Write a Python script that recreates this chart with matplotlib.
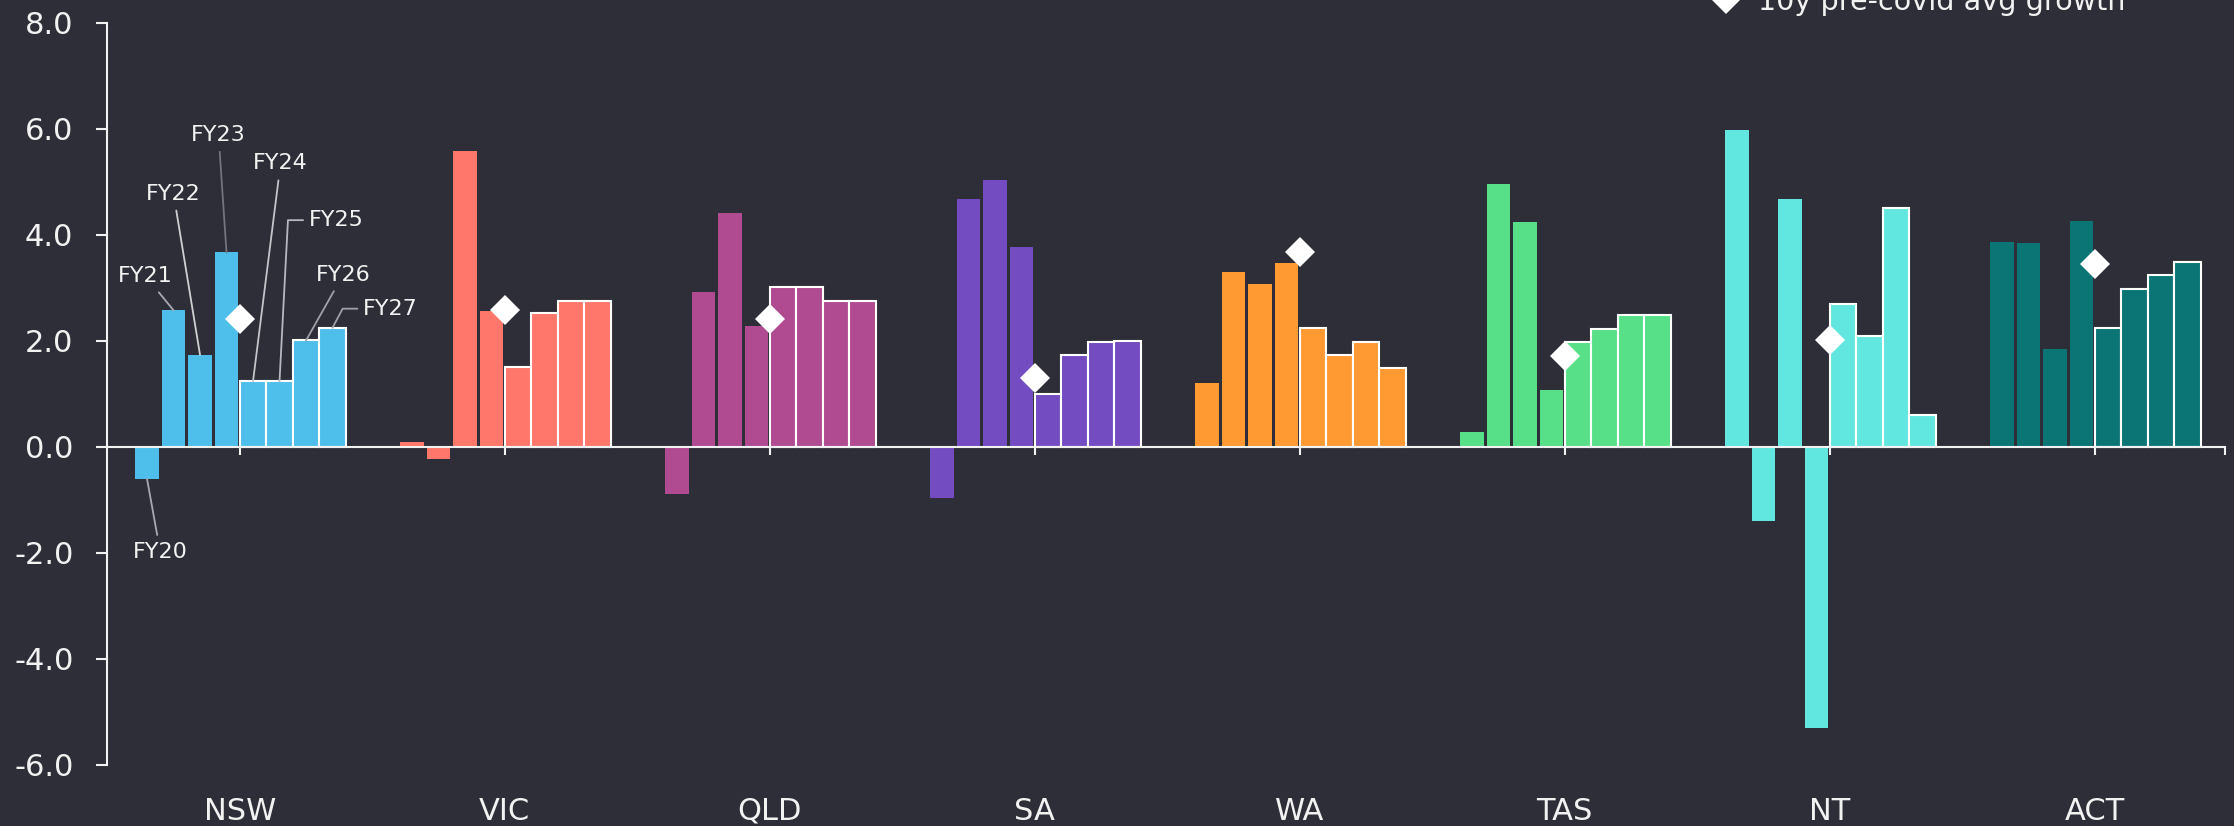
import numpy as np
import matplotlib.pyplot as plt
from matplotlib.lines import Line2D

plt.rcParams['font.family'] = ['DejaVu Sans']
plt.rcParams['axes.unicode_minus'] = False

# data: annual growth by state, FY20-FY23 actual, FY24-FY27 forecast
states = ['NSW', 'VIC', 'QLD', 'SA', 'WA', 'TAS', 'NT', 'ACT']
years = ['FY20', 'FY21', 'FY22', 'FY23', 'FY24', 'FY25', 'FY26', 'FY27']
n_actual = 4

nsw = [-0.60, 2.58, 1.74, 3.67, 1.24, 1.24, 2.01, 2.25]
vic = [0.10, -0.23, 5.58, 2.57, 1.51, 2.52, 2.75, 2.75]
qld = [-0.88, 2.92, 4.41, 2.28, 3.01, 3.01, 2.75, 2.75]
sa = [-0.97, 4.68, 5.03, 3.77, 1.00, 1.74, 1.99, 2.00]
wa = [1.20, 3.30, 3.08, 3.47, 2.25, 1.74, 1.99, 1.49]
tas = [0.29, 4.97, 4.25, 1.07, 1.99, 2.23, 2.50, 2.50]
nt = [5.99, -1.40, 4.67, -5.31, 2.70, 2.10, 4.51, 0.60]
act = [3.86, 3.84, 1.84, 4.26, 2.24, 2.99, 3.25, 3.50]

# 10y pre-covid average growth
pre_covid_avg = [2.42, 2.58, 2.42, 1.31, 3.68, 1.72, 2.01, 3.45]

colors = ['#4dbfea', '#ff766b', '#b04a91', '#744cc2', '#ff9a33', '#57e088', '#62e7e0', '#0b7575']

# NSW label positions (x offset from group centre, y value)
label_xy = [(-0.30, -1.98), (-0.355, 3.22), (-0.25, 4.78), (-0.08, 5.89),
            (0.154, 5.35), (0.26, 4.28), (0.39, 3.25), (0.465, 2.61)]
label_line_col = ['#a8a8b0', '#a8a8b0', '#d0d0d4', '#74747c', '#c4c4ca', '#b8b8c0', '#a0a0a8', '#a0a0a8']

bg = '#2e2e38'
fg = '#f2f2f2'

fig = plt.figure(figsize=(22.34, 8.26), dpi=100, facecolor=bg)
ax = fig.add_axes([107 / 2234, 61 / 826, 2117.6 / 2234, 742 / 826])
ax.set_facecolor(bg)

all_vals = [nsw, vic, qld, sa, wa, tas, nt, act]
step = 0.1
for g, (vals, col) in enumerate(zip(all_vals, colors)):
    for i, v in enumerate(vals):
        x = g + (i - 3.5) * step
        if i < n_actual:
            ax.bar(x, v, width=0.09, color=col, edgecolor='none', zorder=2)
        else:
            ax.bar(x, v, width=step, color=col, edgecolor='white', linewidth=1.5, zorder=3)

ax.plot(range(len(states)), pre_covid_avg, linestyle='none', marker='D', markersize=15,
        color='white', markeredgewidth=0, zorder=5)

# FY labels on NSW
for i, yr in enumerate(years):
    bx = (i - 3.5) * step
    tx, ty = label_xy[i]
    if yr in ('FY25', 'FY27'):
        ang = 87 if yr == 'FY25' else 62
        ax.annotate(yr, xy=(bx, nsw[i]), xytext=(tx, ty), ha='left', va='center',
                    fontsize=16, color=fg,
                    arrowprops=dict(arrowstyle='-', color=label_line_col[i], lw=1.3,
                                    shrinkA=2, shrinkB=0, relpos=(0, 0.5),
                                    connectionstyle=f'angle,angleA=180,angleB={ang},rad=0'))
    else:
        ax.annotate(yr, xy=(bx, nsw[i]), xytext=(tx, ty), ha='center', va='center',
                    fontsize=16, color=fg,
                    arrowprops=dict(arrowstyle='-', color=label_line_col[i], lw=1.3,
                                    shrinkA=3, shrinkB=0))

ax.set_xlim(-0.501, 7.49)
ax.set_ylim(-6, 8)
ax.set_yticks(np.arange(-6, 8.1, 2))
ax.set_yticklabels([f'{v:.1f}' for v in np.arange(-6, 8.1, 2)])
ax.set_xticks(range(len(states)))
ax.set_xticklabels(states)
ax.set_xticks([7.49], minor=True)

for s in ['top', 'right']:
    ax.spines[s].set_visible(False)
ax.spines['bottom'].set_position(('data', 0))
for s in ['left', 'bottom']:
    ax.spines[s].set_color(fg)
    ax.spines[s].set_linewidth(1.5)
    ax.spines[s].set_zorder(4)

ax.tick_params(axis='y', colors=fg, labelsize=22, length=7.7, width=1.5, pad=16.5)
ax.tick_params(axis='x', which='both', colors=fg, labelsize=22, length=5.8, width=1.5, pad=246)

handle = Line2D([], [], linestyle='none', marker='D', markersize=14.5, color='white', markeredgewidth=0)
fig.legend([handle], ['10y pre-covid avg growth'], loc='center left',
           bbox_to_anchor=(1709 / 2234, 0.998), frameon=False, fontsize=20.6,
           labelcolor=fg, handlelength=1.2, handletextpad=0.52, borderpad=0, borderaxespad=0)

fig.savefig('out.png', dpi=100, facecolor=bg)
